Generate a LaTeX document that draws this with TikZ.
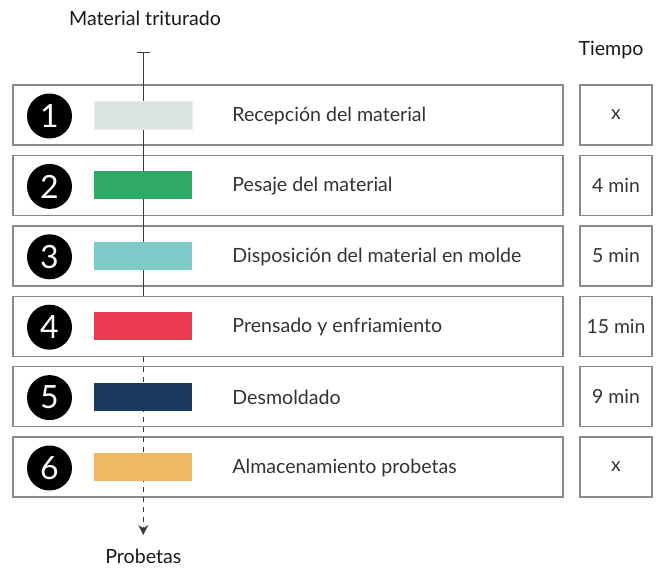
\documentclass[tikz,border=0pt]{standalone}
\usepackage{fontspec}
\setmainfont{Lato}
\usepackage{tikz}
\usetikzlibrary{arrows.meta,positioning,calc}
\definecolor{framegray}{HTML}{8A8A8A}
\definecolor{linegray}{HTML}{3A3A3A}
\definecolor{stepone}{HTML}{DCE4E1}
\definecolor{steptwo}{HTML}{2EAA66}
\definecolor{stepthree}{HTML}{80C9C9}
\definecolor{stepfour}{HTML}{E93A4F}
\definecolor{stepfive}{HTML}{1B3A5F}
\definecolor{stepsix}{HTML}{F0B961}

\begin{document}
\begin{tikzpicture}[x=0.5pt, y=-0.5pt,
  rowbox/.style={draw=framegray, line width=0.7pt, minimum width=275pt, minimum height=30pt, inner sep=0pt},
  timebox/.style={draw=framegray, line width=0.7pt, minimum width=36pt, minimum height=30pt, inner sep=0pt, font=\fontsize{9.7}{11}\selectfont, text=black!80},
  numcircle/.style={circle, fill=black, minimum size=22.5pt, inner sep=0pt, text=white, font=\fontsize{16}{17}\selectfont},
  colorbar/.style={minimum width=49pt, minimum height=14pt, inner sep=0pt},
  steplabel/.style={anchor=west, inner sep=0pt, font=\fontsize{9.8}{11}\selectfont, text=black!80},
  headlabel/.style={inner sep=0pt, font=\fontsize{9.8}{11}\selectfont, text=black!90},
  flow/.style={draw=linegray, line width=0.7pt}
]
  \useasboundingbox (0,0) rectangle (656,569);

  \node[headlabel] (input) at (145,18) {Material triturado};
  \node[headlabel] (timehead) at (611,50) {Tiempo};

  \node[rowbox] (row1) at (288,115) {};
  \node[rowbox] (row2) at (288,185.4) {};
  \node[rowbox] (row3) at (288,255.8) {};
  \node[rowbox] (row4) at (288,326.2) {};
  \node[rowbox] (row5) at (288,396.6) {};
  \node[rowbox] (row6) at (288,467) {};

  \coordinate (top) at (143.3,52);
  \coordinate (bottom) at (143.3,535);
  \draw[flow, {Bar[width=6.5pt]}-] (top) -- (row4.north -| top);
  \draw[flow, dash pattern=on 2.5pt off 2.5pt, -{Stealth[length=5pt, width=5pt]}] (row4.south -| top) -- (bottom);
  \node[headlabel, below=7pt of bottom] (output) {Probetas};

  \node[numcircle] (num1) at (49.5,116) {1};
  \node[numcircle] (num2) at (49.5,186.4) {2};
  \node[numcircle] (num3) at (49.5,256.8) {3};
  \node[numcircle] (num4) at (49.5,327.2) {4};
  \node[numcircle] (num5) at (49.5,397.6) {5};
  \node[numcircle] (num6) at (49.5,468) {6};

  \node[colorbar, fill=stepone, draw=black!8] (bar1) at (143.3,115) {};
  \node[colorbar, fill=steptwo] (bar2) at (143.3,185.4) {};
  \node[colorbar, fill=stepthree] (bar3) at (143.3,255.8) {};
  \node[colorbar, fill=stepfour] (bar4) at (143.3,326.2) {};
  \node[colorbar, fill=stepfive] (bar5) at (143.3,396.6) {};
  \node[colorbar, fill=stepsix] (bar6) at (143.3,467) {};

  \node[steplabel] (label1) at (232,116) {Recepción del material};
  \node[steplabel] (label2) at (232,186.4) {Pesaje del material};
  \node[steplabel] (label3) at (232,256.8) {Disposición del material en molde};
  \node[steplabel] (label4) at (232,327.2) {Prensado y enfriamiento};
  \node[steplabel] (label5) at (232,397.6) {Desmoldado};
  \node[steplabel] (label6) at (232,468) {Almacenamiento probetas};

  \node[timebox] (time1) at (616,115) {x};
  \node[timebox] (time2) at (616,185.4) {4 min};
  \node[timebox] (time3) at (616,255.8) {5 min};
  \node[timebox] (time4) at (616,326.2) {15 min};
  \node[timebox] (time5) at (616,396.6) {9 min};
  \node[timebox] (time6) at (616,467) {x};
\end{tikzpicture}
\end{document}
